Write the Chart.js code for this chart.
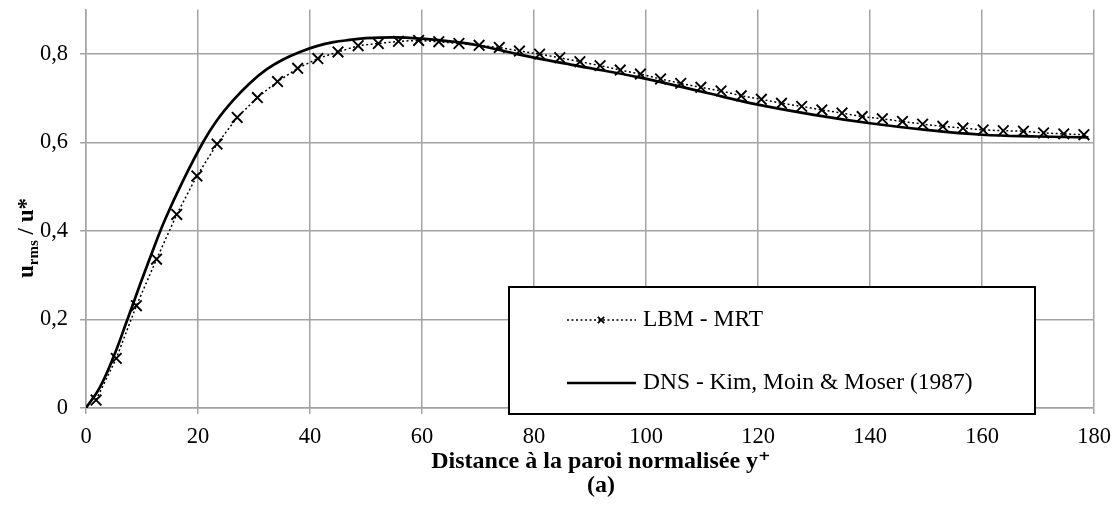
<!DOCTYPE html>
<html>
<head>
<meta charset="utf-8">
<script src="https://cdn.jsdelivr.net/npm/chart.js@4/dist/chart.umd.min.js"></script>
<style>
  html, body { margin: 0; padding: 0; background: #fff; }
  #wrap { width: 1116px; height: 506px; }
</style>
</head>
<body>
<div id="wrap"><canvas id="urmsChart" width="1116" height="506"></canvas></div>
<script>
// LBM - MRT samples (y+, u_rms/u*)
var lbmYPlus = [1.8, 5.4, 9.0, 12.6, 16.2, 19.8, 23.4, 27.0, 30.6, 34.2, 37.8, 41.4, 45.0, 48.6, 52.2,
    55.8, 59.4, 63.0, 66.6, 70.2, 73.8, 77.4, 81.0, 84.6, 88.2, 91.8, 95.4, 99.0, 102.6, 106.2,
    109.8, 113.4, 117.0, 120.6, 124.2, 127.8, 131.4, 135.0, 138.6, 142.2, 145.8, 149.4, 153.0,
    156.6, 160.2, 163.8, 167.4, 171.0, 174.6, 178.2];
var lbmU = [0.018, 0.112, 0.231, 0.336, 0.437, 0.524, 0.596, 0.656, 0.701, 0.737, 0.767, 0.789, 0.804, 0.818, 0.823,
    0.828, 0.830, 0.827, 0.823, 0.819, 0.814, 0.806, 0.799, 0.791, 0.782, 0.773, 0.763, 0.754, 0.743, 0.733,
    0.724, 0.716, 0.705, 0.697, 0.688, 0.681, 0.673, 0.666, 0.658, 0.653, 0.647, 0.641, 0.636,
    0.632, 0.628, 0.626, 0.625, 0.621, 0.619, 0.617];

// DNS reference profile, Kim, Moin & Moser (1987)
var dnsYPlus = [0, 2.4, 4.9, 7.2, 9.6, 12.0, 14.1, 17.4, 20.9, 23.3, 26.3, 29.3, 32.3, 35.2, 38.2, 41.2, 44.2,
    47.1, 50.0, 55.0, 60.0, 65.0, 70.0, 76.0, 80.0, 88.0, 99.0, 110.0, 120.0, 130.0, 140.0, 150.0,
    160.0, 170.0, 179.0];
var dnsU = [0, 0.045, 0.115, 0.193, 0.277, 0.358, 0.425, 0.515, 0.600, 0.648, 0.695, 0.734, 0.765, 0.787, 0.804, 0.817, 0.826,
    0.831, 0.835, 0.837, 0.834, 0.828, 0.819, 0.802, 0.791, 0.772, 0.746, 0.714, 0.685, 0.662, 0.643, 0.628,
    0.617, 0.613, 0.611];

var seriesLabels = ['LBM - MRT', 'DNS - Kim, Moin & Moser (1987)'];
var xTicks = [0, 20, 40, 60, 80, 100, 120, 140, 160, 180];
var yTicks = [0, 0.2, 0.4, 0.6, 0.8];
var xTitle = ['Distance à la paroi normalisée y⁺', '(a)'];

var SERIF = "'Liberation Serif', 'DejaVu Serif', serif";
var GRID = '#a3a3a3';

function toPoints(xs, ys) {
    return xs.map(function(x, i) { return {x: x, y: ys[i]}; });
}

// axis titles: the y one needs a subscript, the x one sits a bit right of centre
var axisTitlePlugin = {
    id: 'axisTitles',
    afterDraw: function(chart) {
        var ctx = chart.ctx;
        var big = 'bold 23px ' + SERIF;
        var small = 'bold 15px ' + SERIF;
        ctx.save();
        ctx.fillStyle = '#000';

        // x title, two lines
        ctx.font = 'bold 24px ' + SERIF;
        ctx.textAlign = 'center';
        ctx.textBaseline = 'middle';
        ctx.fillText(xTitle[0], 601, 462);
        ctx.fillText(xTitle[1], 601, 486);

        // y title, rotated
        ctx.textAlign = 'left';
        ctx.textBaseline = 'alphabetic';
        ctx.font = big;
        var wU = ctx.measureText('u').width;
        var wRest = ctx.measureText(' / u*').width;
        ctx.font = small;
        var wSub = ctx.measureText('rms').width;
        var total = wU + wSub + wRest;
        ctx.translate(33, 238);
        ctx.rotate(-Math.PI / 2);
        var x = -total / 2;
        ctx.font = big;
        ctx.fillText('u', x, 0);
        x += wU;
        ctx.font = small;
        ctx.fillText('rms', x, 5);
        x += wSub;
        ctx.font = big;
        ctx.fillText(' / u*', x, 0);
        ctx.restore();
    }
};

// boxed legend sitting over the lower right of the plot
var boxLegendPlugin = {
    id: 'boxLegend',
    afterDraw: function(chart) {
        var ctx = chart.ctx;
        var box = {left: 509, top: 287, right: 1035, bottom: 414};
        ctx.save();
        ctx.fillStyle = '#fff';
        ctx.fillRect(box.left, box.top, box.right - box.left, box.bottom - box.top);
        ctx.strokeStyle = '#000';
        ctx.lineWidth = 2;
        ctx.strokeRect(box.left, box.top, box.right - box.left, box.bottom - box.top);

        var rows = [320, 383];
        chart.data.datasets.forEach(function(ds, i) {
            var y = rows[i];
            ctx.strokeStyle = '#000';
            ctx.lineWidth = ds.borderWidth;
            ctx.setLineDash(ds.borderDash || []);
            ctx.beginPath();
            ctx.moveTo(567, y);
            ctx.lineTo(636, y);
            ctx.stroke();
            ctx.setLineDash([]);
            if (ds.pointRadius > 0) {
                ctx.lineWidth = 1.8;
                Chart.helpers.drawPoint(ctx, {pointStyle: 'crossRot', radius: 4.5, borderWidth: 1.8}, 601, y);
            }
            ctx.fillStyle = '#000';
            ctx.font = '23.5px ' + SERIF;
            ctx.textBaseline = 'middle';
            ctx.fillText(ds.label, 643, y);
        });
        ctx.restore();
    }
};

new Chart(document.getElementById('urmsChart'), {
    type: 'line',
    data: {
        datasets: [{
            label: seriesLabels[0],
            data: toPoints(lbmYPlus, lbmU),
            borderColor: '#000',
            backgroundColor: '#000',
            borderWidth: 1.5,
            borderDash: [2, 2.5],
            tension: 0,
            pointStyle: 'crossRot',
            pointRadius: 7.5,
            pointBorderWidth: 1.9,
            pointBorderColor: '#000',
            fill: false
        }, {
            label: seriesLabels[1],
            data: toPoints(dnsYPlus, dnsU),
            borderColor: '#000',
            borderWidth: 2.7,
            tension: 0.4,
            pointRadius: 0,
            fill: false
        }]
    },
    options: {
        responsive: false,
        animation: false,
        devicePixelRatio: 1,
        layout: {padding: {left: 0, top: 7, right: 22, bottom: 0}},
        plugins: {
            legend: {display: false},
            tooltip: {enabled: false}
        },
        scales: {
            x: {
                type: 'linear',
                min: xTicks[0],
                max: xTicks[xTicks.length - 1],
                afterBuildTicks: function(scale) {
                    scale.ticks = xTicks.map(function(v) { return {value: v}; });
                },
                afterFit: function(scale) {
                    scale.height = 98;
                    scale.paddingLeft = 0;
                    scale.paddingRight = 0;
                },
                grid: {color: GRID, lineWidth: 1.5, tickLength: 6, drawTicks: true},
                border: {color: GRID, width: 1.5},
                ticks: {
                    color: '#000',
                    font: {family: SERIF, size: 22.5},
                    padding: 10,
                    maxRotation: 0
                }
            },
            y: {
                min: 0,
                max: 0.9,
                afterBuildTicks: function(scale) {
                    scale.ticks = yTicks.map(function(v) { return {value: v}; });
                },
                afterFit: function(scale) {
                    scale.width = 86;
                    scale.paddingTop = 0;
                    scale.paddingBottom = 0;
                },
                grid: {color: GRID, lineWidth: 1.5, tickLength: 6, drawTicks: true},
                border: {color: GRID, width: 1.5},
                ticks: {
                    color: '#000',
                    font: {family: SERIF, size: 22.5},
                    padding: 12,
                    callback: function(v) { return v === 0 ? '0' : v.toFixed(1).replace('.', ','); }
                }
            }
        }
    },
    plugins: [axisTitlePlugin, boxLegendPlugin]
});
</script>
</body>
</html>
